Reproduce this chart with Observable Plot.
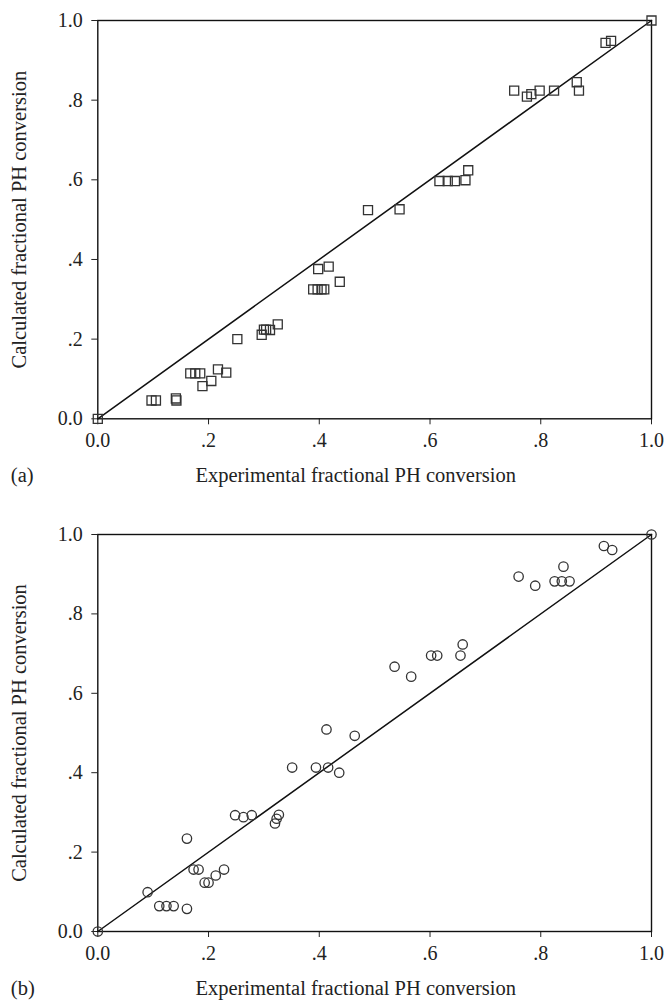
<!DOCTYPE html>
<html>
<head>
<meta charset="utf-8">
<script src="https://cdn.jsdelivr.net/npm/d3@7"></script>
<script src="https://cdn.jsdelivr.net/npm/@observablehq/plot@0.6"></script>
<style>
  html, body { margin: 0; padding: 0; background: #fff; }
  #chart svg { display: block; }
</style>
</head>
<body>
<div id="chart"></div>
<script>
// Panel (a): squares
const expA = [0, 0.097, 0.105, 0.141, 0.142, 0.167, 0.176, 0.185, 0.189, 0.205, 0.217, 0.232, 0.252,
  0.296, 0.300, 0.304, 0.311, 0.325, 0.389, 0.397, 0.404, 0.409, 0.398, 0.417, 0.437, 0.488, 0.545,
  0.617, 0.632, 0.645, 0.664, 0.669, 0.752, 0.775, 0.783, 0.798, 0.824, 0.865, 0.869, 0.917, 0.927, 1];
const calcA = [0, 0.046, 0.046, 0.051, 0.046, 0.114, 0.114, 0.114, 0.082, 0.095, 0.124, 0.116, 0.200,
  0.211, 0.224, 0.224, 0.223, 0.237, 0.325, 0.325, 0.325, 0.325, 0.376, 0.382, 0.344, 0.524, 0.526,
  0.597, 0.597, 0.597, 0.599, 0.624, 0.824, 0.809, 0.815, 0.824, 0.824, 0.845, 0.824, 0.944, 0.949, 1];

// Panel (b): circles
const expB = [0, 0.090, 0.111, 0.124, 0.137, 0.161, 0.161, 0.173, 0.182, 0.193, 0.200, 0.213, 0.228,
  0.248, 0.263, 0.278, 0.320, 0.323, 0.327, 0.351, 0.394, 0.416, 0.413, 0.436, 0.464, 0.536, 0.566,
  0.602, 0.613, 0.655, 0.659, 0.760, 0.790, 0.825, 0.838, 0.852, 0.841, 0.914, 0.929, 1];
const calcB = [0, 0.099, 0.064, 0.064, 0.064, 0.057, 0.234, 0.156, 0.156, 0.123, 0.123, 0.141, 0.156,
  0.293, 0.288, 0.293, 0.272, 0.284, 0.294, 0.413, 0.413, 0.413, 0.509, 0.400, 0.493, 0.667, 0.642,
  0.695, 0.695, 0.695, 0.723, 0.894, 0.871, 0.882, 0.882, 0.882, 0.919, 0.971, 0.961, 1];

// Reference line y = x
const diagonal = [0, 1];

// Tick values and labels
const tickValues = [0, 0.2, 0.4, 0.6, 0.8, 1.0];
const tickLabels = ["0.0", ".2", ".4", ".6", ".8", "1.0"];

const xTitle = "Experimental fractional PH conversion";
const yTitle = "Calculated fractional PH conversion";

function panel(xs, ys, symbol, r, tag, height, marginBottom) {
  const pts = xs.map((x, i) => ({x, y: ys[i]}));
  const fmt = v => tickLabels[tickValues.findIndex(t => Math.abs(t - v) < 1e-9)];
  return Plot.plot({
    width: 664,
    height,
    marginLeft: 97.3,
    marginRight: 13,
    marginTop: 20,
    marginBottom,
    style: {fontFamily: "'Liberation Serif', 'Times New Roman', serif", fontSize: "20px", color: "#222", background: "#fff"},
    x: {domain: [0, 1]},
    y: {domain: [0, 1]},
    marks: [
      Plot.axisX({ticks: tickValues, tickFormat: fmt, tickSize: 6, tickPadding: 8, label: null, fontSize: 20, stroke: "#222"}),
      Plot.axisY({ticks: tickValues, tickFormat: fmt, tickSize: 6, tickPadding: 9, label: null, fontSize: 20, stroke: "#222"}),
      Plot.frame({stroke: "#111", strokeWidth: 1.4}),
      Plot.line(diagonal, {x: d => d, y: d => d, stroke: "#111", strokeWidth: 1.5}),
      Plot.dot(pts, {x: "x", y: "y", symbol, r, stroke: "#333", strokeWidth: 1.3, fill: "none"}),
      Plot.text([xTitle], {frameAnchor: "bottom", dy: 63, dx: -19, textAnchor: "middle", text: d => d, fontSize: 20.5, fill: "#222"}),
      Plot.text([tag], {frameAnchor: "bottom-left", dy: 63, dx: -87, textAnchor: "start", text: d => d, fontSize: 20.5, fill: "#222"}),
      Plot.text([yTitle], {frameAnchor: "left", dx: -78, rotate: -90, textAnchor: "middle", text: d => d, fontSize: 20.5, fill: "#222"})
    ]
  });
}

const chart = document.getElementById("chart");
chart.appendChild(panel(expA, calcA, "square", 5.1, "(a)", 514, 95.7));
chart.appendChild(panel(expB, calcB, "circle", 4.7, "(b)", 489, 72));
</script>
</body>
</html>
